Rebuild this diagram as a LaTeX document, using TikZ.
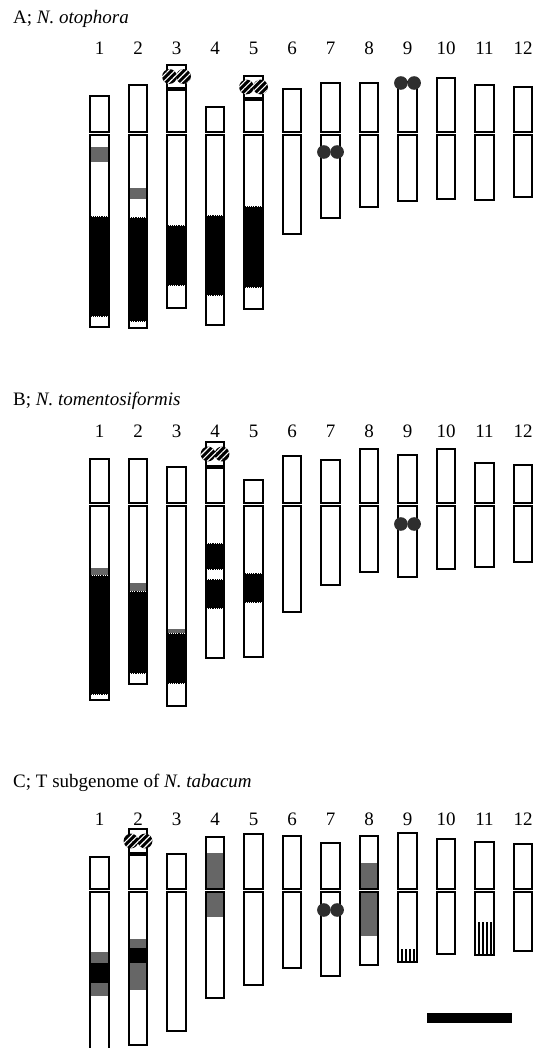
\documentclass[tikz,border=0pt]{standalone}
\usepackage{fontspec}
\setmainfont{Liberation Serif}
\usetikzlibrary{patterns.meta}

% chromosome width 18.5, drawn around its centre x
\newcommand\chr[4]{% x, top, centromere, bottom
  \draw[chrline] (#1-9.25,#2) rectangle (#1+9.25,#3-1.5);
  \draw[chrline] (#1-9.25,#3+1.5) rectangle (#1+9.25,#4);}
\newcommand\band[4]{% x, from, to, style
  \fill[#4] (#1-9.25,#2) rectangle (#1+9.25,#3);}
% black band with speckled borders
\newcommand\dband[3]{% x, from, to
  \fill[black] (#1-9.25,#2) rectangle (#1+9.25,#3);
  \draw[speck] (#1-8,#2+0.9) -- (#1+8,#2+0.9);
  \draw[speck] (#1-8,#3-0.9) -- (#1+8,#3-0.9);}
% vertically striped band
\newcommand\vband[3]{% x, from, to
  \foreach \k in {-6,-2,2,6}
    \draw[stripe] (#1+\k,#2) -- (#1+\k,#3);}
\newcommand\cenpair[2]{% x, y : dark centromeric signal
  \fill[cenfill] (#1-6.6,#2) circle (6.8);
  \fill[cenfill] (#1+6.6,#2) circle (6.8);}
\newcommand\satel[3]{% x, top, bottom : satellite with hatched NOR signal
  \draw[satline] (#1-9.25,#2) rectangle (#1+9.25,#3);
  \fill[black] (#1-7,{(#2+#3)/2}) circle (7.4);
  \fill[black] (#1+7,{(#2+#3)/2}) circle (7.4);
  \fill[hatch] (#1-7,{(#2+#3)/2}) circle (7.4);
  \fill[hatch] (#1+7,{(#2+#3)/2}) circle (7.4);}

\begin{document}
\begin{tikzpicture}[x=1pt,y=-1pt,
  chrline/.style={draw=black,line width=2pt},
  satline/.style={draw=black,line width=1.8pt,fill=white},
  speck/.style={white,line width=0.9pt,dash pattern=on 1pt off 1.2pt},
  stripe/.style={black,line width=2pt},
  grey/.style={fill=black!60},
  hatch/.style={pattern={Lines[angle=45,distance=4.4pt,line width=1.1pt]},pattern color=white},
  cenfill/.style={fill=black!82},
  title/.style={font=\fontsize{19}{22}\selectfont,anchor=base west,inner sep=0pt},
  numlab/.style={font=\fontsize{19}{22}\selectfont,anchor=base,inner sep=0pt}]
\useasboundingbox (0,0) rectangle (539,1048);

% ---------------- A: N. otophora (centromere at 134) ----------------
\node[title] (titleA) at (13,24) {A; \textit{N. otophora}};
\foreach \i in {1,...,12}
  \node[numlab] (nA\i) at ({99.5+38.5*(\i-1)},55) {\i};

\band{99.5}{147}{162}{grey}
\dband{99.5}{216}{317}
\chr{99.5}{96}{134}{327}

\band{138}{188}{199}{grey}
\dband{138}{217}{322}
\chr{138}{85}{134}{328}

\dband{176.5}{225}{286}
\chr{176.5}{90}{134}{308}
\satel{176.5}{65}{88}

\dband{215}{215}{296}
\chr{215}{107}{134}{325}

\dband{253.5}{206}{288}
\chr{253.5}{100}{134}{309}
\satel{253.5}{76}{98}

\chr{292}{89}{134}{234}
\chr{330.5}{83}{134}{218}
\cenpair{330.5}{152}
\chr{369}{83}{134}{207}
\chr{407.5}{82}{134}{201}
\cenpair{407.5}{83}
\chr{446}{78}{134}{199}
\chr{484.5}{85}{134}{200}
\chr{523}{87}{134}{197}

% ---------------- B: N. tomentosiformis (centromere at 504) ----------------
\node[title] (titleB) at (13,405) {B; \textit{N. tomentosiformis}};
\foreach \i in {1,...,12}
  \node[numlab] (nB\i) at ({99.5+38.5*(\i-1)},437) {\i};

\band{99.5}{568}{575}{grey}
\dband{99.5}{575}{695}
\chr{99.5}{459}{504}{700}

\band{138}{583}{591}{grey}
\dband{138}{591}{674}
\chr{138}{459}{504}{684}

\band{176.5}{629}{633}{grey}
\dband{176.5}{633}{684}
\chr{176.5}{467}{504}{706}

\dband{215}{543}{570}
\dband{215}{579}{609}
\chr{215}{468}{504}{658}
\satel{215}{442}{466}

\dband{253.5}{573}{603}
\chr{253.5}{480}{504}{657}

\chr{292}{456}{504}{612}
\chr{330.5}{460}{504}{585}
\chr{369}{449}{504}{572}
\chr{407.5}{455}{504}{577}
\cenpair{407.5}{524}
\chr{446}{449}{504}{569}
\chr{484.5}{463}{504}{567}
\chr{523}{465}{504}{562}

% ---------------- C: T subgenome of N. tabacum (centromere at 890) ----------------
\node[title] (titleC) at (13,787) {C; T subgenome of \textit{N. tabacum}};
\foreach \i in {1,...,12}
  \node[numlab] (nC\i) at ({99.5+38.5*(\i-1)},825) {\i};

\band{99.5}{952}{963}{grey}
\band{99.5}{963}{983}{black}
\band{99.5}{983}{996}{grey}
\chr{99.5}{857}{890}{1062}

\band{138}{939}{948}{grey}
\band{138}{948}{963}{black}
\band{138}{963}{990}{grey}
\chr{138}{855}{890}{1045}
\satel{138}{829}{853}

\chr{176.5}{854}{890}{1031}

\band{215}{853}{888.5}{grey}
\band{215}{891.5}{917}{grey}
\chr{215}{837}{890}{998}

\chr{253.5}{834}{890}{985}
\chr{292}{836}{890}{968}
\chr{330.5}{843}{890}{976}
\cenpair{330.5}{910}

\band{369}{863}{888.5}{grey}
\band{369}{891.5}{936}{grey}
\chr{369}{836}{890}{965}

\vband{407.5}{949}{962}
\chr{407.5}{833}{890}{962}
\chr{446}{839}{890}{954}
\vband{484.5}{922}{955}
\chr{484.5}{842}{890}{955}
\chr{523}{844}{890}{951}

% scale bar
\fill[black] (427,1013) rectangle (512,1023);
\end{tikzpicture}
\end{document}
